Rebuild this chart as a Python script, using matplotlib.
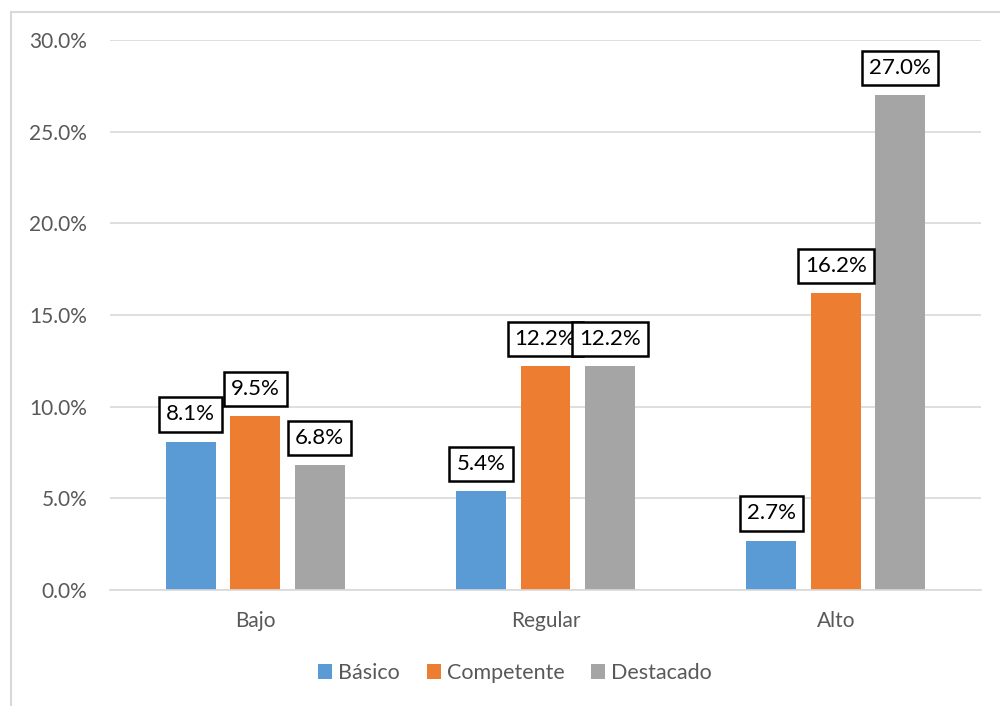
import matplotlib.pyplot as plt
import numpy as np
from matplotlib.lines import Line2D
from matplotlib.ticker import FuncFormatter

plt.rcParams['font.family'] = ['Lato', 'DejaVu Sans']

niveles = ['Bajo', 'Regular', 'Alto']
series = ['Básico', 'Competente', 'Destacado']
basico = [8.1, 5.4, 2.7]
competente = [9.5, 12.2, 16.2]
destacado = [6.8, 12.2, 27.0]
colores = ['#5b9bd5', '#ed7d31', '#a5a5a5']

fig = plt.figure(figsize=(10, 7.06), dpi=100)
ax = fig.add_axes([0.11, 0.1643, 0.871, 0.779])

x = np.arange(len(niveles))
ancho = 0.172
paso = 0.222

for i, (nombre, vals, col) in enumerate(zip(series, [basico, competente, destacado], colores)):
    pos = x + (i - 1) * paso
    ax.bar(pos, vals, ancho, color=col, label=nombre, zorder=2)
    for px, v in zip(pos, vals):
        ax.annotate(f'{v:.1f}%', (px, v), xytext=(0, 19.5), textcoords='offset points',
                    ha='center', va='center', fontsize=16, color='black', zorder=5,
                    bbox=dict(boxstyle='square,pad=0.32', fc='white', ec='black', lw=1.8))

ax.set_xlim(-0.5, 2.5)
ax.set_ylim(0, 30)
ax.set_yticks(np.arange(0, 31, 5))
ax.yaxis.set_major_formatter(FuncFormatter(lambda v, _: f'{v:.1f}%'))
ax.set_xticks(x)
ax.set_xticklabels(niveles)
ax.tick_params(axis='both', length=0, labelsize=15, colors='#595959')
ax.tick_params(axis='x', pad=15)
ax.tick_params(axis='y', pad=16.5)
ax.grid(axis='y', color='#d9d9d9', lw=1.2, zorder=0)
for s in ['top', 'right', 'left']:
    ax.spines[s].set_visible(False)
ax.spines['bottom'].set_color('#d9d9d9')
ax.spines['bottom'].set_linewidth(1.2)

ax.legend(loc='center', bbox_to_anchor=(0.515, 1 - 673 / 706), bbox_transform=fig.transFigure,
          ncol=3, frameon=False, fontsize=15.5, labelcolor='#595959', handlelength=0.65,
          handleheight=0.65, handletextpad=0.28, columnspacing=1.25)

# outer chart frame
fig.add_artist(Line2D([0.0105, 0.0105], [0, 1 - 11.5 / 706], color='#d9d9d9', lw=1.5))
fig.add_artist(Line2D([0.0105, 1], [1 - 11.5 / 706, 1 - 11.5 / 706], color='#d9d9d9', lw=1.5))

fig.savefig('out.png', dpi=100)
